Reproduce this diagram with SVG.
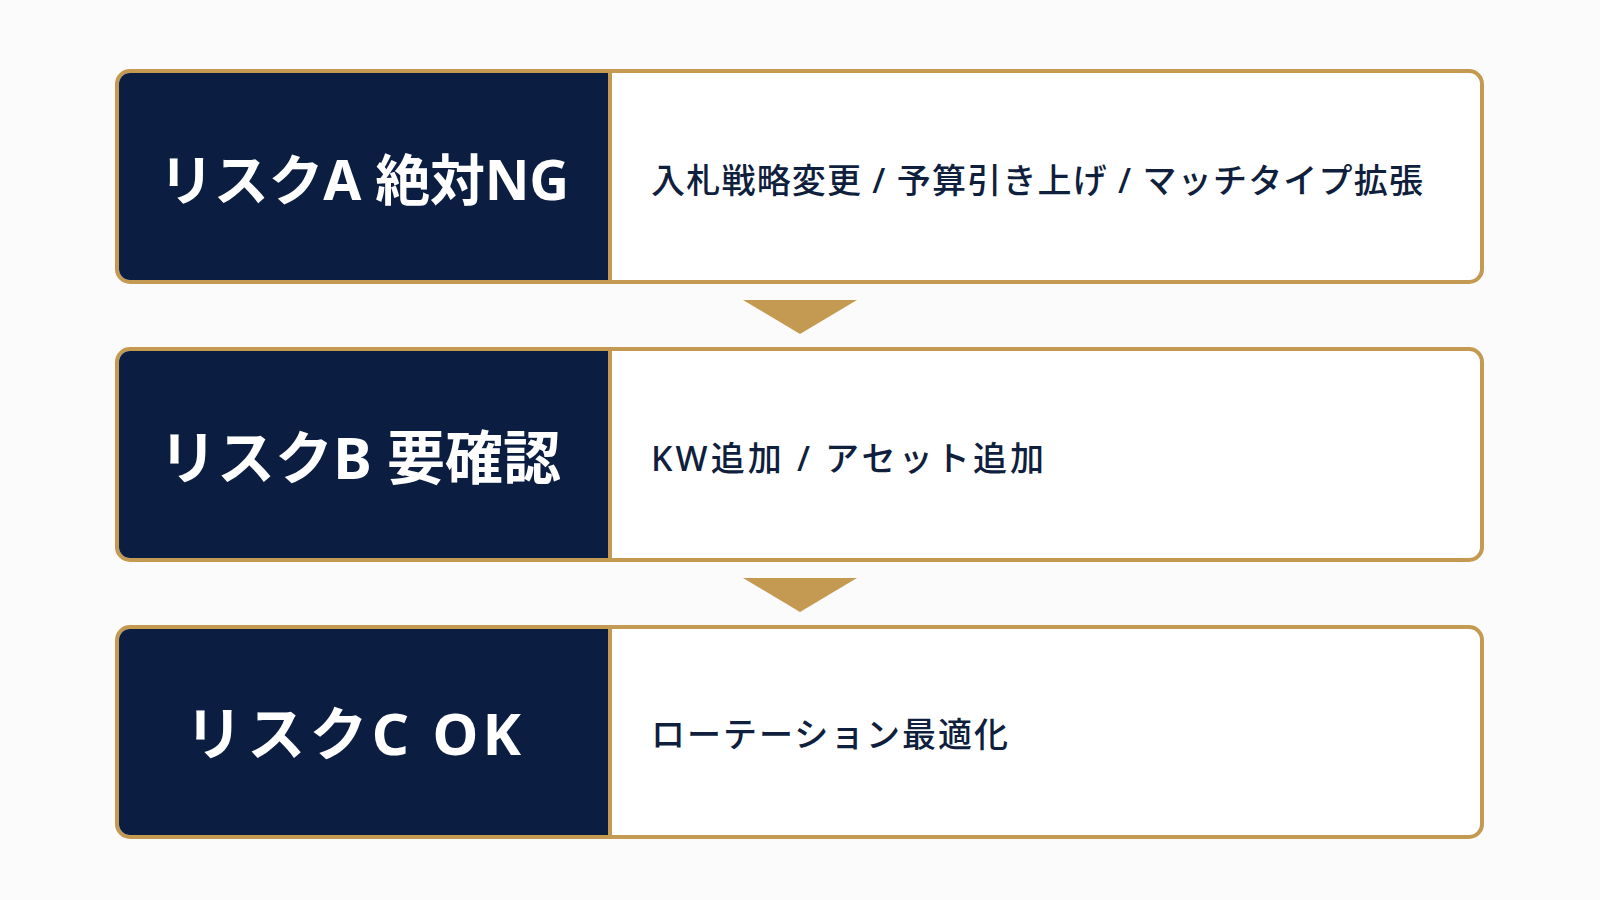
<svg xmlns="http://www.w3.org/2000/svg" width="1600" height="900" viewBox="0 0 1600 900">
<style>
.frame{fill:#FFFFFF;stroke:#C49A52;stroke-width:4}
.panel{fill:#0B1D40}
.divider{stroke:#C49A52;stroke-width:4}
.title{font-family:"Noto Sans","Noto Sans CJK JP",sans-serif;font-weight:700;font-size:58px;fill:#FFFFFF}
.title-a{font-size:55px}
.desc{font-family:"Noto Sans","Noto Sans CJK JP",sans-serif;font-weight:500;font-size:34px;fill:#0F1F3D}
.arrow{fill:#C49A52}
</style>
<rect x="0" y="0" width="1600" height="900" fill="#FBFBFB"/>
<g id="riskA">
<rect class="frame" x="117" y="71" width="1365" height="211" rx="13"/>
<path class="panel" d="M608 73 H130 A11 11 0 0 0 119 84 V269 A11 11 0 0 0 130 280 H608 Z"/>
<line class="divider" x1="610" y1="73" x2="610" y2="280"/>
<text class="title title-a" x="159" y="200" textLength="410" lengthAdjust="spacing">リスクA 絶対NG</text>
<text class="desc" x="651" y="193" textLength="772" lengthAdjust="spacing">入札戦略変更 / 予算引き上げ / マッチタイプ拡張</text>
</g>
<g id="riskB">
<rect class="frame" x="117" y="349" width="1365" height="211" rx="13"/>
<path class="panel" d="M608 351 H130 A11 11 0 0 0 119 362 V547 A11 11 0 0 0 130 558 H608 Z"/>
<line class="divider" x1="610" y1="351" x2="610" y2="558"/>
<text class="title" x="159" y="479" textLength="402" lengthAdjust="spacing">リスクB 要確認</text>
<text class="desc" x="651" y="471" textLength="393" lengthAdjust="spacing">KW追加 / アセット追加</text>
</g>
<g id="riskC">
<rect class="frame" x="117" y="627" width="1365" height="210" rx="13"/>
<path class="panel" d="M608 629 H130 A11 11 0 0 0 119 640 V824 A11 11 0 0 0 130 835 H608 Z"/>
<line class="divider" x1="610" y1="629" x2="610" y2="835"/>
<text class="title" x="185" y="755" textLength="336" lengthAdjust="spacing">リスクC OK</text>
<text class="desc" x="651" y="747" textLength="357" lengthAdjust="spacing">ローテーション最適化</text>
</g>
<g id="connectors">
<polygon class="arrow" points="743,300 857,300 800,334"/>
<polygon class="arrow" points="743,578 857,578 800,612"/>
</g>
</svg>
